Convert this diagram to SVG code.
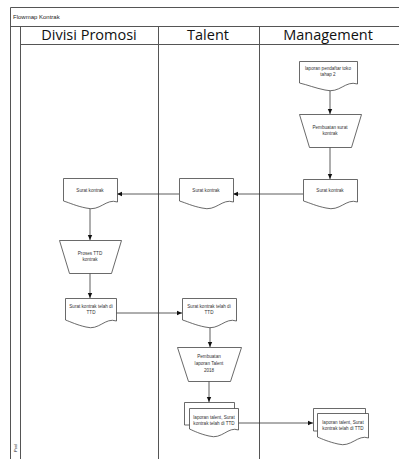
<svg xmlns="http://www.w3.org/2000/svg" width="399" height="459" viewBox="0 0 399 459">
<defs>
<style>
.frame{stroke:#555;stroke-width:1;fill:none}
.shape{fill:#fff;stroke:#444;stroke-width:0.8}
.conn{stroke:#333;stroke-width:0.8;fill:none}
.t{font-family:"Liberation Sans",Arial,sans-serif;font-size:4.6px;fill:#333;text-anchor:middle}
.h{font-family:"Open Sans","Liberation Sans",sans-serif;font-size:14.5px;fill:#111;text-anchor:middle}
.title{font-family:"Liberation Sans",Arial,sans-serif;font-size:6px;fill:#222}
</style>
<marker id="arr" markerWidth="6" markerHeight="6" refX="5" refY="3" orient="auto" markerUnits="userSpaceOnUse">
<path d="M0,0.8 L5,3 L0,5.2 Z" fill="#111"/>
</marker>
</defs>
<rect width="399" height="459" fill="#fff"/>
<g id="frame">
<path class="frame" d="M10.5,459 V7.5 H399 M10.5,26.5 H399 M20.5,26.5 V459 M20.5,44.5 H399 M158.5,26.5 V459 M259.5,26.5 V459"/>
<text class="title" x="13" y="19">Flowmap Kontrak</text>
<text class="h" x="89" y="40">Divisi Promosi</text>
<text class="h" x="208" y="40">Talent</text>
<text class="h" x="328" y="40">Management</text>
<text class="title" style="font-size:4px" transform="translate(17,452) rotate(-90)">Pool</text>
</g>
<g id="connectors">
<path class="conn" d="M330,88 V114" marker-end="url(#arr)"/>
<path class="conn" d="M330,147 V179" marker-end="url(#arr)"/>
<path class="conn" d="M303,194 H233" marker-end="url(#arr)"/>
<path class="conn" d="M179,194 H117" marker-end="url(#arr)"/>
<path class="conn" d="M90,209 V240" marker-end="url(#arr)"/>
<path class="conn" d="M90,273 V298" marker-end="url(#arr)"/>
<path class="conn" d="M116,313 H182" marker-end="url(#arr)"/>
<path class="conn" d="M210,327 V347" marker-end="url(#arr)"/>
<path class="conn" d="M209,381 V402" marker-end="url(#arr)"/>
<path class="conn" d="M238,423 H313" marker-end="url(#arr)"/>
</g>
<g id="n1">
<path class="shape" d="M299.5,61.5 H357.5 V84 C345,80 340,94 325,90 C315,88 308,85 299.5,83 Z"/>
<text class="t" x="328" y="70">laporan pendaftar toko</text>
<text class="t" x="328" y="75.5">tahap 2</text>
</g>
<g id="n2">
<path class="shape" d="M299.5,114.5 H361.5 L351.5,147.5 H309.5 Z"/>
<text class="t" x="330" y="129">Pembuatan surat</text>
<text class="t" x="330" y="134.5">kontrak</text>
</g>
<g id="n3">
<path class="shape" d="M303.5,179.5 H357.5 V202 C346,198 340,212 326,208 C316,206 310,203 303.5,201 Z"/>
<text class="t" x="330" y="192">Surat kontrak</text>
</g>
<g id="n4">
<path class="shape" d="M179.5,178.5 H233.5 V202 C222,198 216,212 202,208 C192,206 186,203 179.5,201 Z"/>
<text class="t" x="206" y="192">Surat kontrak</text>
</g>
<g id="n5">
<path class="shape" d="M63.5,178.5 H117.5 V202 C106,198 100,212 86,208 C76,206 70,203 63.5,201 Z"/>
<text class="t" x="90" y="192">Surat kontrak</text>
</g>
<g id="n6">
<path class="shape" d="M59.5,240.5 H121.5 L111.5,273.5 H69.5 Z"/>
<text class="t" x="90" y="255">Proses TTD</text>
<text class="t" x="90" y="260.5">kontrak</text>
</g>
<g id="n7">
<path class="shape" d="M65.5,298.5 H116.5 V321 C105,317 99,331 86,327 C77,325 71,322 65.5,320 Z"/>
<text class="t" x="91" y="308">Surat kontrak telah di</text>
<text class="t" x="91" y="313.5">TTD</text>
</g>
<g id="n8">
<path class="shape" d="M182.5,298.5 H236.5 V321 C225,317 219,331 205,327 C195,325 189,322 182.5,320 Z"/>
<text class="t" x="209" y="308">Surat kontrak telah di</text>
<text class="t" x="209" y="313.5">TTD</text>
</g>
<g id="n9">
<path class="shape" d="M177.5,347.5 H241.5 L230.5,381.5 H188.5 Z"/>
<text class="t" x="209" y="358">Pembuatan</text>
<text class="t" x="209" y="365">laporan Talent</text>
<text class="t" x="209" y="372">2018</text>
</g>
<g id="n10">
<path class="shape" d="M184.5,402.5 H234.5 V425 H184.5 Z"/>
<path class="shape" d="M189.5,408.5 H238.5 V430 C228,426 222,440 209,436 C200,434 194,431 189.5,429 Z"/>
<text class="t" x="214" y="418.5">laporan talent, Surat</text>
<text class="t" x="214" y="425">kontrak telah di TTD</text>
</g>
<g id="n11">
<path class="shape" d="M313.5,408.5 H365.5 V431 H313.5 Z"/>
<path class="shape" d="M317.5,413.5 H368.5 V438 C358,434 351,448 338,444 C329,442 322,439 317.5,437 Z"/>
<text class="t" x="343" y="423.5">laporan talent, Surat</text>
<text class="t" x="343" y="430">kontrak telah di TTD</text>
</g>
</svg>
